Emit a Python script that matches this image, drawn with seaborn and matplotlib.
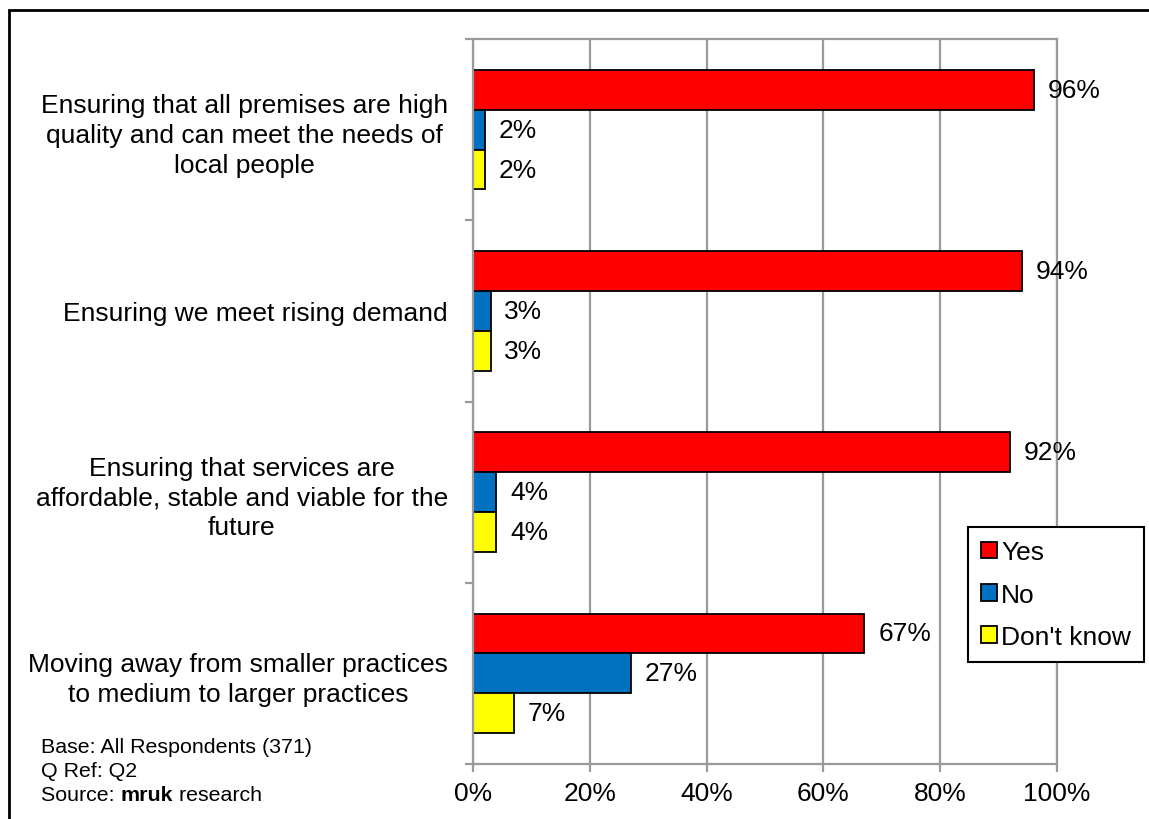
import pandas as pd
import numpy as np
import matplotlib.pyplot as plt
import matplotlib.patches as patches
import seaborn as sns

# chart values
statements = [
    "Ensuring that all premises are high\nquality and can meet the needs of\nlocal people",
    "Ensuring we meet rising demand",
    "Ensuring that services are\naffordable, stable and viable for the\nfuture",
    "Moving away from smaller practices\nto medium to larger practices",
]
responses = ["Yes", "No", "Don't know"]
yes_pct = [96, 94, 92, 67]
no_pct = [2, 3, 4, 27]
dk_pct = [2, 3, 4, 7]
x_ticks = [0, 20, 40, 60, 80, 100]
colours = {"Yes": "#FF0000", "No": "#0070C0", "Don't know": "#FFFF00"}

rows = []
for i, s in enumerate(statements):
    rows.append((s, "Yes", yes_pct[i]))
    rows.append((s, "No", no_pct[i]))
    rows.append((s, "Don't know", dk_pct[i]))
df = pd.DataFrame(rows, columns=["Statement", "Response", "Pct"])

sns.set_style("white")
plt.rcParams['font.family'] = ['Liberation Sans', 'DejaVu Sans']
plt.rcParams['text.color'] = 'black'
plt.rcParams['xtick.labelcolor'] = 'black'
plt.rcParams['ytick.labelcolor'] = 'black'

fig = plt.figure(figsize=(11.49, 8.2), dpi=100)
ax = fig.add_axes([473/1149, 1 - 765/820, (1057 - 473)/1149, (765 - 40)/820])

sns.barplot(data=df, x="Pct", y="Statement", hue="Response", hue_order=responses,
            order=statements, palette=colours, orient="h", width=0.66, gap=0,
            saturation=1, edgecolor="black", linewidth=1.3, ax=ax)

fsz = 19
for c in ax.containers:
    ax.bar_label(c, fmt="%d%%", padding=10, fontsize=fsz, color="black")

grey = "#9A9A9A"
ax.set_xlim(0, 100)
ax.set_ylim(len(statements) - 0.5, -0.5)
ax.set_xticks(x_ticks)
ax.set_xticklabels([f"{t}%" for t in x_ticks], fontsize=fsz)
ax.xaxis.grid(True, color=grey, linewidth=1.6)
ax.yaxis.grid(False)
ax.set_axisbelow(True)
ax.tick_params(axis="x", length=6, width=1.6, color=grey, pad=6, bottom=True)
ax.tick_params(axis="y", which="major", length=0, pad=18, labelsize=fsz)
ax.set_yticks(np.arange(-0.5, len(statements), 1), minor=True)
ax.tick_params(axis="y", which="minor", length=5.5, width=1.6, color=grey, left=True)
for lab in ax.get_yticklabels():
    lab.set_multialignment("center")
    lab.set_linespacing(1.3)
for sp in ax.spines.values():
    sp.set_color(grey)
    sp.set_linewidth(1.6)
ax.set_xlabel("")
ax.set_ylabel("")

handles, labels = ax.get_legend_handles_labels()
leg = ax.legend(handles, labels, loc="upper left",
                bbox_to_anchor=(968/1149, 1 - 528/820),
                bbox_transform=fig.transFigure,
                fontsize=fsz, frameon=True, fancybox=False, edgecolor="black",
                handlelength=0.6, handleheight=0.6, handletextpad=0.15,
                labelspacing=0.7, borderpad=0.5, borderaxespad=0)
leg.get_frame().set_linewidth(1.5)
leg.get_frame().set_alpha(1)
for t in leg.get_texts():
    t.set_color("black")

# outer border of chart area
fig.patches.append(patches.Rectangle((9/1149, -0.1), 1.2, 1.1 - 11/820,
                                     transform=fig.transFigure, fill=False,
                                     edgecolor="black", linewidth=2))

# footnote
fs = 15.4
fig.text(41/1149, 1 - 748/820, "Base: All Respondents (371)", fontsize=fs, va="center")
fig.text(41/1149, 1 - 772/820, "Q Ref: Q2", fontsize=fs, va="center")
renderer = fig.canvas.get_renderer()
t1 = fig.text(41/1149, 1 - 796/820, "Source: ", fontsize=fs, va="center")
x1 = t1.get_window_extent(renderer).x1
t2 = fig.text(x1/fig.bbox.width, 1 - 796/820, "mruk", fontsize=fs, va="center", fontweight="bold")
x2 = t2.get_window_extent(renderer).x1
fig.text(x2/fig.bbox.width, 1 - 796/820, " research", fontsize=fs, va="center")

fig.savefig("out.png", dpi=100)
